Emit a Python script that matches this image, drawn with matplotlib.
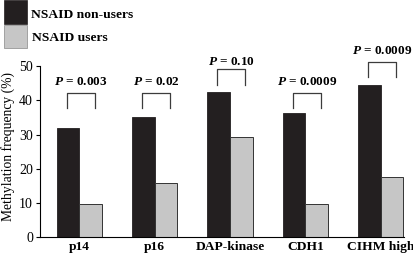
import matplotlib
matplotlib.use("Agg")
import matplotlib.pyplot as plt
from matplotlib.patches import Rectangle
import numpy as np

plt.rcParams['font.family'] = ['Liberation Serif', 'DejaVu Serif']
plt.rcParams['mathtext.fontset'] = 'custom'
plt.rcParams['mathtext.it'] = 'Liberation Serif:italic:bold'
plt.rcParams['mathtext.rm'] = 'Liberation Serif:bold'

# data
genes = ['p14', 'p16', 'DAP-kinase', 'CDH1', 'CIHM high']
non_users = [32.0, 35.2, 42.4, 36.2, 44.4]
users = [9.6, 15.8, 29.4, 9.6, 17.6]
p_values = ['0.003', '0.02', '0.10', '0.0009', '0.0009']
bracket_top = [42.2, 42.2, 49.0, 42.2, 51.2]
p_text_y = [44.6, 44.4, 50.4, 44.4, 53.4]

BLACK = '#231f20'
GREY = '#c6c6c6'

fig = plt.figure(figsize=(4.14, 2.60), dpi=100)
ax = fig.add_axes([40 / 414, 22.7 / 260, 364 / 414, 171.3 / 260])

x = np.arange(len(genes))
w = 0.3
ax.bar(x - w / 2, non_users, w, color=BLACK, edgecolor=BLACK, linewidth=0.6)
ax.bar(x + w / 2, users, w, color=GREY, edgecolor='#333333', linewidth=0.7)

# significance brackets
leg = 4.5
for xi, top, ty, p in zip(x, bracket_top, p_text_y, p_values):
    ax.plot([xi - 0.165, xi - 0.165, xi + 0.205, xi + 0.205],
            [top - leg, top, top, top - leg],
            color='#3c3c3c', lw=0.9, clip_on=False)
    ax.text(xi + 0.02, ty, r'$P$ = ' + p, ha='center', va='baseline',
            fontsize=9.5, fontweight='bold', clip_on=False)

ax.set_xlim(-0.52, 4.31)
ax.set_ylim(0, 50)
ax.set_yticks([0, 10, 20, 30, 40, 50])
ax.set_xticks(x)
ax.set_xticklabels(genes, fontsize=9.7, fontweight='bold')
ax.tick_params(axis='x', length=0, pad=3)
ax.tick_params(axis='y', direction='out', length=3, width=0.8, labelsize=10, pad=2)
ax.spines['top'].set_visible(False)
ax.spines['right'].set_visible(False)
ax.spines['left'].set_linewidth(0.8)
ax.spines['bottom'].set_linewidth(0.8)
ax.set_ylabel('Methylation frequency (%)', fontsize=9.8)
ax.yaxis.set_label_coords(-0.068, 0.53)

# legend boxes drawn at the top left
fig.add_artist(Rectangle((4 / 414, 1 - 24 / 260), 23.5 / 414, 24 / 260,
                         transform=fig.transFigure, facecolor=BLACK, edgecolor=BLACK, lw=0.5))
fig.add_artist(Rectangle((4 / 414, 1 - 48 / 260), 23.5 / 414, 23 / 260,
                         transform=fig.transFigure, facecolor=GREY, edgecolor='#888888', lw=0.5))
fig.text(31 / 414, 1 - 15 / 260, 'NSAID non-users', fontsize=9.7, fontweight='bold', va='center')
fig.text(32 / 414, 1 - 38 / 260, 'NSAID users', fontsize=9.7, fontweight='bold', va='center')

fig.savefig('out.png', dpi=100)
